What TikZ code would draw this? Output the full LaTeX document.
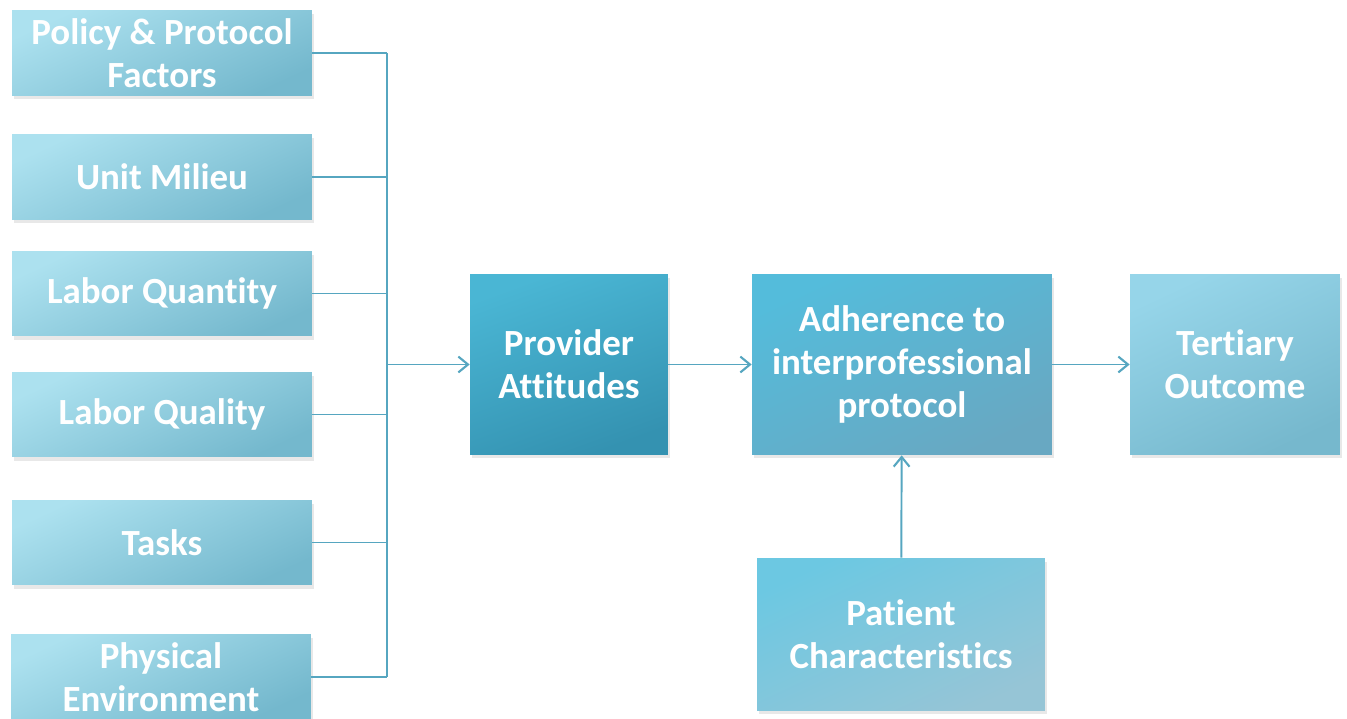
\documentclass[tikz,border=0pt]{standalone}
\usepackage{fontspec}
\setmainfont{Carlito}[Ligatures=NoCommon]
\usetikzlibrary{positioning, arrows.meta, shadows}

\definecolor{factortop}{RGB}{172,225,239}
\definecolor{factorbot}{RGB}{116,184,205}
\definecolor{providertop}{RGB}{74,182,212}
\definecolor{providerbot}{RGB}{52,146,177}
\definecolor{adheretop}{RGB}{84,188,219}
\definecolor{adherebot}{RGB}{104,168,194}
\definecolor{outcometop}{RGB}{150,213,233}
\definecolor{outcomebot}{RGB}{118,184,205}
\definecolor{patienttop}{RGB}{108,200,226}
\definecolor{patientbot}{RGB}{150,197,214}
\definecolor{linkcol}{RGB}{86,166,192}

\begin{document}
\begin{tikzpicture}[
    x=0.02cm, y=-0.02cm,
    % Styles
    box/.style={text=white, align=center, inner sep=1pt,
        font=\bfseries\fontsize{21}{24.5}\selectfont,
        drop shadow={opacity=0.18, shadow xshift=1pt, shadow yshift=-2pt}},
    factor/.style={box, top color=factortop, bottom color=factorbot, shading angle=25,
        minimum width=6cm, minimum height=1.7cm},
    provider/.style={box, top color=providertop, bottom color=providerbot, shading angle=20,
        minimum width=3.96cm, minimum height=3.62cm},
    adherence/.style={box, top color=adheretop, bottom color=adherebot, shading angle=25,
        minimum width=6cm, minimum height=3.62cm},
    outcome/.style={box, top color=outcometop, bottom color=outcomebot, shading angle=25,
        minimum width=4.2cm, minimum height=3.62cm},
    patient/.style={box, top color=patienttop, bottom color=patientbot, shading angle=25,
        minimum width=5.76cm, minimum height=3.06cm},
    link/.style={draw=linkcol, line width=1.1pt},
    arrow/.style={link, -{Straight Barb[length=5.5pt, width=9pt, line width=1.2pt]}},
]

\useasboundingbox (0,0) rectangle (1347,719);
\clip (0,0) rectangle (1347,719);

% LEFT SIDE: factors
\node[factor] (policy) at (162, 53) {Policy \& Protocol\\Factors};
\node[factor] (milieu) at (162, 177) {Unit Milieu};
\node[factor] (quantity) at (162, 293.5) {Labor Quantity};
\node[factor] (quality) at (162, 414.5) {Labor Quality};
\node[factor] (tasks) at (162, 542.5) {Tasks};
\node[factor] (physical) at (161, 677) {Physical\\Environment};

% Collecting bus
\coordinate (bus) at (387, 0);
\foreach \f in {policy, milieu, quantity, quality, tasks, physical}
    \draw[link] (\f.east) -- (\f.east -| bus);
\draw[link] (policy.east -| bus) -- (physical.east -| bus);

% Main chain
\node[provider] (attitudes) at (569, 364.5) {Provider\\Attitudes};
\node[adherence] (adherence) at (902, 364.5) {Adherence to\\interprofessional\\protocol};
\node[outcome] (tertiary) at (1235, 364.5) {Tertiary\\Outcome};
\node[patient] (patient) at (901, 634.5) {Patient\\Characteristics};

\draw[arrow] (bus |- attitudes.west) -- (attitudes.west);
\draw[arrow] (attitudes) -- (adherence);
\draw[arrow] (adherence) -- (tertiary);
\draw[arrow] (patient) -- (adherence);

\end{tikzpicture}
\end{document}
